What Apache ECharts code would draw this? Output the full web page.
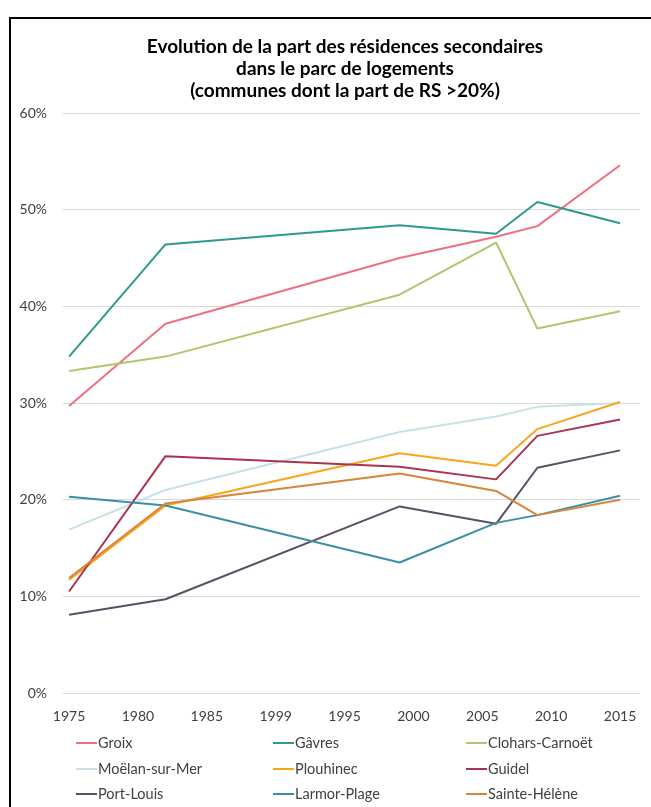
<!DOCTYPE html>
<html><head><meta charset="utf-8">
<script src="https://cdn.jsdelivr.net/npm/echarts@6/dist/echarts.min.js"></script>
<style>html,body{margin:0;padding:0;background:#fff}#c{width:651px;height:807px}</style>
</head><body><div id="c"></div>
<script>
const years = [1975, 1982, 1999, 2006, 2009, 2015];
const tickValues = [1975, 1980, 1985, 1990, 1995, 2000, 2005, 2010, 2015];
const tickLabels = ['1975', '1980', '1985', '1999', '1995', '2000', '2005', '2010', '2015'];
const yTicks = [0, 10, 20, 30, 40, 50, 60];
const names = ['Groix', 'Gâvres', 'Clohars-Carnoët', 'Moëlan-sur-Mer', 'Plouhinec', 'Guidel', 'Port-Louis', 'Larmor-Plage', 'Sainte-Hélène'];
const groix = [29.7, 38.2, 45.0, 47.2, 48.3, 54.6];
const gavres = [34.8, 46.4, 48.4, 47.5, 50.8, 48.6];
const clohars = [33.3, 34.8, 41.2, 46.6, 37.7, 39.5];
const moelan = [16.9, 21.0, 27.0, 28.6, 29.6, 30.0];
const plouhinec = [11.7, 19.4, 24.8, 23.5, 27.3, 30.1];
const guidel = [10.5, 24.5, 23.4, 22.1, 26.6, 28.3];
const portLouis = [8.1, 9.7, 19.3, 17.5, 23.3, 25.1];
const larmor = [20.3, 19.4, 13.5, 17.6, 18.4, 20.4];
const sainteHelene = [11.9, 19.6, 22.7, 20.9, 18.4, 20.0];
const seriesValues = [groix, gavres, clohars, moelan, plouhinec, guidel, portLouis, larmor, sainteHelene];
const colors = ['#ef6f80', '#2e9a8c', '#b3c46e', '#c6e2e6', '#f9a51c', '#a9344f', '#5a4f63', '#3a8fa6', '#d9843a'];

const FONT = 'Lato';
const chart = echarts.init(document.getElementById('c'), null, {renderer: 'canvas'});

const series = names.map((n, i) => ({
  name: n, type: 'line', showSymbol: false, symbol: 'none',
  data: years.map((y, j) => [y, seriesValues[i][j]]),
  lineStyle: {width: 2, color: colors[i]}, itemStyle: {color: colors[i]},
  z: 2 + i
}));

const colLeft = [76, 273, 466];
const rowTop = [735, 761, 786];
const legends = names.map((n, i) => ({
  left: colLeft[i % 3], top: rowTop[Math.floor(i / 3)],
  icon: 'rect', itemWidth: 21, itemHeight: 2, padding: 0,
  data: [n],
  textStyle: {fontFamily: FONT, fontSize: 14.5, color: '#404040', lineHeight: 16, padding: [0, 0, 0, -4]},
  selectedMode: false
}));

chart.setOption({
  animation: false,
  color: colors,
  title: {
    text: 'Evolution de la part des résidences secondaires\ndans le parc de logements\n(communes dont la part de RS >20%)',
    left: 340, textAlign: 'center', top: 31,
    textStyle: {fontFamily: FONT, fontWeight: 'bold', fontSize: 19, lineHeight: 22, color: '#000'}
  },
  graphic: [{type: 'rect', shape: {x: 10, y: 18, width: 700, height: 900}, style: {fill: 'none', stroke: '#000', lineWidth: 2}, silent: true}],
  legend: legends,
  grid: {left: 63, right: 11, top: 113, bottom: 114, containLabel: false},
  xAxis: {
    type: 'value', min: 1974.56, max: 2016.45,
    axisLine: {show: false}, axisTick: {show: false}, splitLine: {show: false},
    axisLabel: {
      customValues: tickValues,
      formatter: v => tickLabels[tickValues.indexOf(Math.round(v))] || '',
      fontFamily: FONT, fontSize: 14, color: '#404040', margin: 16
    }
  },
  yAxis: {
    type: 'value', min: yTicks[0], max: yTicks[yTicks.length - 1], interval: 10,
    axisLine: {show: false}, axisTick: {show: false},
    splitLine: {lineStyle: {color: '#d9d9d9', width: 1}},
    axisLabel: {formatter: '{value}%', fontFamily: FONT, fontSize: 14, color: '#404040', margin: 16}
  },
  series: series
});
</script></body></html>
